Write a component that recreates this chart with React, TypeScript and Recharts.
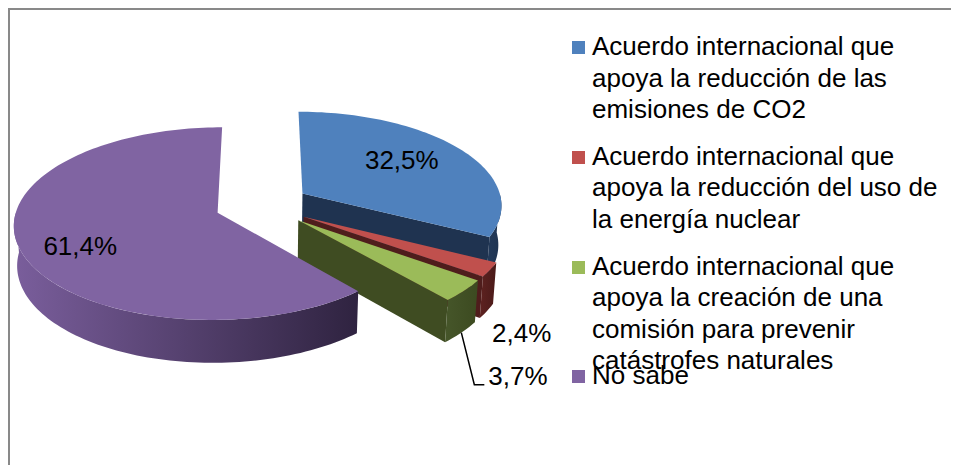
import { PieChart, Pie } from "recharts";

const categories = [
  "Acuerdo internacional que apoya la reducción de las emisiones de CO2",
  "Acuerdo internacional que apoya la reducción del uso de la energía nuclear",
  "Acuerdo internacional que apoya la creación de una comisión para prevenir catástrofes naturales",
  "No sabe",
];
const values = [32.5, 2.4, 3.7, 61.4];
const legendLines = [
  ["Acuerdo internacional que", "apoya la reducción de las", "emisiones de CO2"],
  ["Acuerdo internacional que", "apoya la reducción del uso de", "la energía nuclear"],
  ["Acuerdo internacional que", "apoya la creación de una", "comisión para prevenir", "catástrofes naturales"],
  ["No sabe"],
];
const topColors = ["#4F81BD", "#C0504D", "#9BBB59", "#8064A2"];
const sideColors = [
  ["#233a5a", "#1f3350"],
  ["#5e2220", "#4a1a19"],
  ["#46562a", "#3c4a20"],
  ["#7a5e9c", "#2f2340"],
];
const cutColors = ["#1f3350", "#4f1d1c", "#3f4c22", "#3a2b4c"];

const data = categories.map((name, i) => ({ name, value: values[i] }));

const FONT = '"Liberation Sans", Arial, sans-serif';
const DEPTH = 45;
const EXPLODE = 47.5;
const SIN_T = 0.4667;
const COS_T = 0.8844;
const DIST = 1592;
const RAD = Math.PI / 180;

function project(cx: number, cy: number, X: number, Y: number, Z: number) {
  const w = DIST - (Z * COS_T + Y * SIN_T);
  const s = DIST / w;
  return [cx + X * s, cy - (Y * COS_T - Z * SIN_T) * s];
}

function geom(props: any) {
  const { cx, cy, startAngle, endAngle, outerRadius } = props;
  const mid = (startAngle + endAngle) / 2;
  const ex = EXPLODE * Math.cos(mid * RAD);
  const ez = -EXPLODE * Math.sin(mid * RAD);
  const at = (a: number, r: number, y: number) =>
    project(cx, cy, ex + r * Math.cos(a * RAD), y, ez - r * Math.sin(a * RAD));
  return { mid, at, R: outerRadius };
}

function arcPts(at: any, R: number, from: number, to: number, y: number) {
  const n = Math.max(2, Math.ceil(Math.abs(to - from) / 1.5));
  const pts: number[][] = [];
  for (let k = 0; k <= n; k++) pts.push(at(from + ((to - from) * k) / n, R, y));
  return pts;
}

const toPath = (pts: number[][]) =>
  "M" + pts.map((p) => `${p[0].toFixed(2)},${p[1].toFixed(2)}`).join("L") + "Z";

function Slice3D(props: any) {
  const { index, startAngle, endAngle } = props;
  const { at, R } = geom(props);
  const hi = Math.max(startAngle, endAngle);
  const lo = Math.min(startAngle, endAngle);
  const c0 = at(0, 0, 0);
  const c1 = at(0, 0, -DEPTH);
  const parts: any[] = [];

  // cut face at the clockwise end
  if (Math.sin((lo - 90) * RAD) < -0.01) {
    parts.push(
      <path key="cutLo" d={toPath([c0, at(lo, R, 0), at(lo, R, -DEPTH), c1])} fill={cutColors[index]} />
    );
  }
  if (Math.sin((hi + 90) * RAD) < -0.01) {
    parts.push(
      <path key="cutHi" d={toPath([c0, at(hi, R, 0), at(hi, R, -DEPTH), c1])} fill={cutColors[index]} />
    );
  }
  // outer curved side, front half only
  const b1 = Math.max(lo, -180);
  const b2 = Math.min(hi, 0);
  if (b2 > b1) {
    const top = arcPts(at, R, b2, b1, 0);
    const bot = arcPts(at, R, b1, b2, -DEPTH);
    parts.push(
      <path key="side" d={toPath([...top, ...bot])} fill={`url(#side${index})`} />
    );
  }
  parts.push(
    <path key="top" d={toPath([c0, ...arcPts(at, R, hi, lo, 0)])} fill={topColors[index]} />
  );

  return (
    <g>
      <defs>
        <linearGradient id={`side${index}`} x1="0" y1="0" x2="1" y2="0">
          <stop offset="0" stopColor={sideColors[index][0]} />
          <stop offset="1" stopColor={sideColors[index][1]} />
        </linearGradient>
      </defs>
      {parts}
    </g>
  );
}

function fmt(v: number) {
  return v.toFixed(1).replace(".", ",") + "%";
}

function renderLabel(props: any) {
  const { index, value } = props;
  const { mid, at, R } = geom(props);
  const txt = { fontSize: 26, fontFamily: FONT, fill: "#000" };
  if (index === 0 || index === 3) {
    const frac = index === 0 ? 0.62 : 0.7;
    const [x, y] = at(mid, R * frac, 0);
    const dy = index === 0 ? 4 : 18;
    return (
      <text x={x} y={y + dy} textAnchor="middle" {...txt}>
        {fmt(value)}
      </text>
    );
  }
  const [x, y] = at(mid, R, -DEPTH);
  if (index === 1) {
    return (
      <text x={x + 5} y={y + 31} {...txt}>
        {fmt(value)}
      </text>
    );
  }
  return (
    <g>
      <polyline
        points={`${x},${y} ${x + 13},${y + 52} ${x + 23},${y + 52}`}
        fill="none"
        stroke="#000"
        strokeWidth={1.5}
      />
      <text x={x + 27} y={y + 52} {...txt}>
        {fmt(value)}
      </text>
    </g>
  );
}

export default function App() {
  return (
    <div
      style={{
        position: "relative",
        width: 941,
        height: 455,
        borderTop: "2px solid #898989",
        borderLeft: "2px solid #898989",
        background: "#fff",
        overflow: "hidden",
      }}
    >
      <PieChart width={941} height={455} margin={{ top: 0, right: 0, bottom: 0, left: 0 }}>
        <Pie
          data={data}
          dataKey="value"
          nameKey="name"
          cx={252.5}
          cy={195}
          outerRadius={200}
          startAngle={90}
          endAngle={-270}
          stroke="none"
          shape={Slice3D}
          label={renderLabel}
          labelLine={false}
          isAnimationActive={false}
        />
      </PieChart>
      {legendLines.map((lines, i) => (
        <div
          key={i}
          style={{
            position: "absolute",
            left: 562,
            top: 21.2 + i * 109.7,
            fontFamily: FONT,
            fontSize: 26,
            lineHeight: "31.5px",
            color: "#000",
            whiteSpace: "nowrap",
          }}
        >
          <span
            style={{
              position: "absolute",
              left: 0,
              top: 10,
              width: 13,
              height: 13,
              background: topColors[i],
            }}
          />
          <div style={{ paddingLeft: 20 }}>
            {lines.map((l, j) => (
              <div key={j}>{l}</div>
            ))}
          </div>
        </div>
      ))}
    </div>
  );
}
